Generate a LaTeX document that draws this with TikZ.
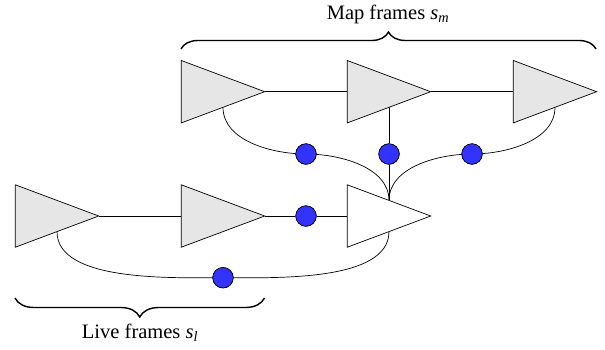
\documentclass[tikz,border=0pt]{standalone}
\usepackage{fontspec}
\setmainfont{Liberation Serif}
\usetikzlibrary{calc,decorations.pathreplacing}
\definecolor{trifill}{RGB}{230,230,230}
\definecolor{dotblue}{RGB}{51,51,255}
\begin{document}
\begin{tikzpicture}[x=1pt,y=-1pt,
  frame/.style={draw=none,inner sep=0pt,minimum width=83pt,minimum height=62pt},
  dot/.style={circle,draw=black,line width=0.6pt,fill=dotblue,inner sep=0pt,minimum size=20.5pt},
  link/.style={line width=0.7pt},
  bracestyle/.style={line width=1.4pt,decorate,decoration={brace,amplitude=#1}},
  lbl/.style={font=\rmfamily\fontsize{20.5}{24}\selectfont,inner sep=0pt}]
\useasboundingbox (0,0) rectangle (605,349);
% frames
\node[frame] (t1) at (223,91.7) {};
\node[frame] (t2) at (389,91.7) {};
\node[frame] (t3) at (555,91.7) {};
\node[frame] (l1) at (57,216) {};
\node[frame] (l2) at (223,216) {};
\node[frame] (w)  at (389,216) {};
% dots
\node[dot] (d1) at (306,154) {};
\node[dot] (d2) at (389,154) {};
\node[dot] (d3) at (472,154) {};
\node[dot] (d4) at (306,216) {};
\node[dot] (d5) at (223,277.7) {};
% connection points
\coordinate (t1b) at ($(t1.center)!0.5!(t1.south)$);
\coordinate (t2b) at ($(t2.center)!0.5!(t2.south)$);
\coordinate (t3b) at ($(t3.center)!0.5!(t3.south)$);
\coordinate (l1b) at ($(l1.center)!0.5!(l1.south)$);
\coordinate (wt) at ($(w.center)!0.5!(w.north)$);
\coordinate (wb) at ($(w.center)!0.5!(w.south)$);
% connectors (behind)
\draw[link] (t1.east) -- (t2.west);
\draw[link] (t2.east) -- (t3.west);
\draw[link] (l1.east) -- (l2.west);
\draw[link] (l2.east) -- (d4) -- (w.west);
\draw[link] (t2b) -- (d2) -- (wt);
\draw[link] (t1b) to[out=-90,in=180,looseness=0.9] (d1.center);
\draw[link] (d1.center) to[out=0,in=90,looseness=0.9] (wt);
\draw[link] (t3b) to[out=-90,in=0,looseness=0.9] (d3.center);
\draw[link] (d3.center) to[out=180,in=90,looseness=0.9] (wt);
\draw[link] (l1b) to[out=-90,in=180,looseness=0.75] (d5.center);
\draw[link] (d5.center) to[out=0,in=-90,looseness=0.75] (wb);
% triangles
\foreach \n/\c in {t1/trifill,t2/trifill,t3/trifill,l1/trifill,l2/trifill,w/white}
  \draw[line width=0.7pt,fill=\c,line join=miter] (\n.north west) -- (\n.east) -- (\n.south west) -- cycle;
% dots on top
\foreach \d in {d1,d2,d3,d4,d5}
  \node[dot] at (\d) {};
% braces
\coordinate (ba) at (181,49);
\coordinate (bb) at (596,49);
\coordinate (bc) at (264.5,298);
\coordinate (bd) at (15,298);
\draw[bracestyle=17pt] (ba) -- (bb);
\draw[bracestyle=19pt] (bc) -- (bd);
\node[lbl] (maplbl) at (388,14) {Map frames \textit{s}\textsubscript{\textit{m}}};
\node[lbl] (livelbl) at (140,333) {Live frames \textit{s}\textsubscript{\textit{l}}};
\end{tikzpicture}
\end{document}
